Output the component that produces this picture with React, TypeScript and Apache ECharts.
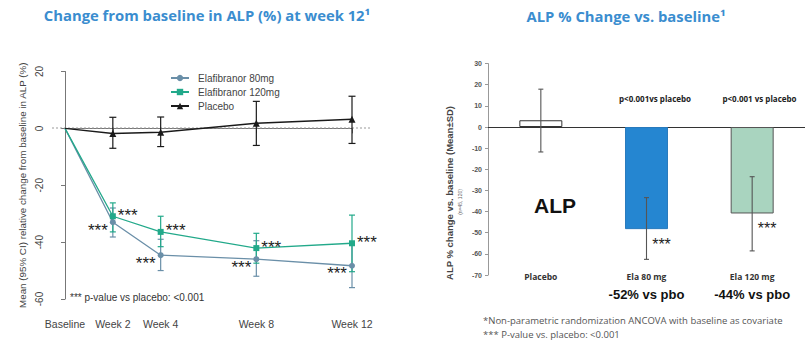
import React, { useEffect, useRef } from 'react';
import * as echarts from 'echarts';

// ---------- Left chart data ----------
const weeks = [0, 2, 4, 8, 12];
const weekLabels = ['Baseline', 'Week 2', 'Week 4', 'Week 8', 'Week 12'];
const ela80Mean = [0, -33, -44.6, -46, -48.3];
const ela80Low = [null, -38.2, -50, -52, -56];
const ela80High = [null, -28, -39, -39.5, -40];
const ela120Mean = [0, -30.9, -36.4, -42.1, -40.4];
const ela120Low = [null, -36.4, -41.6, -47.4, -50.4];
const ela120High = [null, -26.2, -30.9, -36.9, -30.5];
const placeboMean = [0, -1.8, -1.4, 1.8, 3.2];
const placeboLow = [null, -7, -6.4, -6, -5.3];
const placeboHigh = [null, 3.9, 4, 9.5, 11.3];
const sigLeft = ['', '***', '***', '***', '***'];

// ---------- Right chart data ----------
const barCats = ['Placebo', 'Ela 80 mg', 'Ela 120 mg'];
const barMean = [3.2, -48.3, -40.9];
const barSdLow = [-11.8, -62.6, -58.6];
const barSdHigh = [17.9, -33.4, -23.5];
const barSig = ['', '***', '***'];
const pLabels = ['', 'p<0.001vs placebo', 'p<0.001 vs placebo'];
const diffLabels = ['', '-52% vs pbo', '-44% vs pbo'];
const barColors = ['#ffffff', '#2586d1', '#a9d4bf'];
const barBorders = ['#333333', '#2a7bbd', '#555555'];

const C80 = '#6a8fa8';
const C120 = '#22a98a';
const CPL = '#1a1a1a';
const TITLE = '#3a8dcf';

function pts(mean: number[]) {
  return weeks.map((w, i) => (i === 0 ? { value: [w, mean[i]], symbol: 'none' } : [w, mean[i]]));
}
function errData(low: (number | null)[], high: (number | null)[]) {
  const out: number[][] = [];
  weeks.forEach((w, i) => {
    if (low[i] != null && high[i] != null) out.push([w, low[i] as number, high[i] as number]);
  });
  return out;
}
function errRender(cap: number, color: string, width: number) {
  return (params: any, api: any) => {
    const x = api.value(0);
    const lo = api.coord([x, api.value(1)]);
    const hi = api.coord([x, api.value(2)]);
    const st = { stroke: color, lineWidth: width };
    return {
      type: 'group',
      children: [
        { type: 'line', shape: { x1: lo[0], y1: lo[1], x2: hi[0], y2: hi[1] }, style: st },
        { type: 'line', shape: { x1: lo[0] - cap, y1: lo[1], x2: lo[0] + cap, y2: lo[1] }, style: st },
        { type: 'line', shape: { x1: hi[0] - cap, y1: hi[1], x2: hi[0] + cap, y2: hi[1] }, style: st },
      ],
    };
  };
}

export default function App() {
  const ref = useRef<HTMLDivElement>(null);
  useEffect(() => {
    const chart = echarts.init(ref.current!, undefined, { renderer: 'svg' });
    const lf = 'Liberation Sans, Arial, sans-serif';
    const of = 'Open Sans, sans-serif';
    const starLabel = (pos: string, off: number[], arr: string[]) => ({
      show: true,
      position: pos,
      distance: 2,
      offset: off,
      fontSize: 17,
      fontFamily: lf,
      color: '#222',
      formatter: (p: any) => arr[p.dataIndex],
    });
    const option: any = {
      animation: false,
      backgroundColor: '#ffffff',
      grid: [
        { left: 65, top: 71.5, width: 287, height: 227.5 },
        { left: 488, top: 63.6, width: 318, height: 211.4 },
      ],
      xAxis: [
        {
          type: 'value', gridIndex: 0, min: 0, max: 12, offset: 9,
          axisLine: { show: true, lineStyle: { color: '#777', width: 1 } },
          axisTick: { show: true, length: 5, customValues: weeks, lineStyle: { color: '#777' } },
          axisLabel: {
            customValues: weeks, margin: 10, fontSize: 10.5, fontFamily: lf, color: '#444',
            formatter: (v: number) => { const i = weeks.indexOf(v); return i >= 0 ? weekLabels[i] : ''; },
          },
          splitLine: { show: false },
        },
        {
          type: 'category', gridIndex: 1, data: barCats,
          axisLine: { show: true, onZero: true, lineStyle: { color: '#333', width: 1.2 } },
          axisTick: { show: false }, axisLabel: { show: false },
        },
        {
          type: 'category', gridIndex: 1, data: barCats, position: 'bottom',
          axisLine: { show: false, onZero: false }, axisTick: { show: false },
          axisLabel: {
            margin: -4, interval: 0, hideOverlap: false,
            formatter: (v: string) => {
              const i = barCats.indexOf(v);
              return diffLabels[i] ? `{a|${v}}\n{b|${diffLabels[i]}}` : `{a|${v}}`;
            },
            rich: {
              a: { fontSize: 8.5, fontWeight: 'bold', fontFamily: of, color: '#333', lineHeight: 11 },
              b: { fontSize: 13, fontWeight: 'bold', fontFamily: lf, color: '#111', lineHeight: 25 },
            },
          },
        },
      ],
      yAxis: [
        {
          type: 'value', gridIndex: 0, min: -60, max: 20, interval: 20, offset: 13,
          name: 'Mean (95% CI) relative change from baseline in ALP (%)',
          nameLocation: 'middle', nameGap: 25,
          nameTextStyle: { fontSize: 9.8, fontFamily: lf, color: '#444' },
          axisLine: { show: true, lineStyle: { color: '#777', width: 1 } },
          axisTick: { show: true, length: 4, lineStyle: { color: '#777' } },
          axisLabel: { rotate: 90, margin: 8, fontSize: 10, fontFamily: lf, color: '#444' },
          splitLine: { show: false },
        },
        {
          type: 'value', gridIndex: 1, min: -70, max: 30, interval: 10,
          axisLine: { show: true, lineStyle: { color: '#999', width: 1 } },
          axisTick: { show: true, length: 3, lineStyle: { color: '#999' } },
          axisLabel: { margin: 6, fontSize: 7, fontWeight: 'bold', fontFamily: lf, color: '#555' },
          splitLine: { show: false },
        },
      ],
      legend: {
        left: 165, top: 68, orient: 'vertical', itemWidth: 18, itemHeight: 8, itemGap: 4,
        textStyle: { fontSize: 10, fontFamily: lf, color: '#444', padding: [0, 0, 0, 4] },
        data: ['Elafibranor 80mg', 'Elafibranor 120mg', 'Placebo'],
      },
      series: [
        {
          type: 'custom', name: 'err80', xAxisIndex: 0, yAxisIndex: 0,
          renderItem: errRender(3, C80, 1.2), data: errData(ela80Low, ela80High),
          encode: { x: 0, y: [1, 2] }, z: 3,
        },
        {
          type: 'custom', name: 'err120', xAxisIndex: 0, yAxisIndex: 0,
          renderItem: errRender(3, C120, 1.2), data: errData(ela120Low, ela120High),
          encode: { x: 0, y: [1, 2] }, z: 3,
        },
        {
          type: 'custom', name: 'errPl', xAxisIndex: 0, yAxisIndex: 0,
          renderItem: errRender(3.5, CPL, 1.2), data: errData(placeboLow, placeboHigh),
          encode: { x: 0, y: [1, 2] }, z: 3,
        },
        {
          type: 'line', name: 'Elafibranor 80mg', xAxisIndex: 0, yAxisIndex: 0,
          data: pts(ela80Mean), symbol: 'circle', symbolSize: 6,
          lineStyle: { color: C80, width: 1.3 }, itemStyle: { color: C80 },
          label: starLabel('left', [0, 8], sigLeft), z: 4,
        },
        {
          type: 'line', name: 'Elafibranor 120mg', xAxisIndex: 0, yAxisIndex: 0,
          data: pts(ela120Mean), symbol: 'rect', symbolSize: 6,
          lineStyle: { color: C120, width: 1.3 }, itemStyle: { color: C120 },
          label: starLabel('right', [0, -1], sigLeft), z: 4,
        },
        {
          type: 'line', name: 'Placebo', xAxisIndex: 0, yAxisIndex: 0,
          data: pts(placeboMean), symbol: 'triangle', symbolSize: 7,
          lineStyle: { color: CPL, width: 1.5 }, itemStyle: { color: CPL }, z: 5,
        },
        {
          type: 'bar', name: 'bars', xAxisIndex: 1, yAxisIndex: 1, barWidth: 43,
          data: barMean.map((v, i) => ({
            value: v,
            itemStyle: { color: barColors[i], borderColor: barBorders[i], borderWidth: 1 },
          })),
          label: {
            show: true, position: 'bottom', distance: 3, offset: [15, 4],
            fontSize: 16, fontFamily: lf, color: '#222',
            formatter: (p: any) => barSig[p.dataIndex],
          },
        },
        {
          type: 'custom', name: 'errBar', xAxisIndex: 1, yAxisIndex: 1,
          renderItem: errRender(2.5, '#555', 1.1),
          data: barCats.map((c, i) => [i, barSdLow[i], barSdHigh[i]]),
          encode: { x: 0, y: [1, 2] }, z: 5,
        },
      ],
      graphic: [
        { type: 'text', x: 207, y: 15, style: { text: 'Change from baseline in ALP (%) at week 12¹', font: `bold 14.8px ${of}`, fill: TITLE, textAlign: 'center', textVerticalAlign: 'middle' } },
        { type: 'text', x: 626, y: 16, style: { text: 'ALP % Change vs. baseline¹', font: `bold 14.8px ${of}`, fill: TITLE, textAlign: 'center', textVerticalAlign: 'middle' } },
        { type: 'line', shape: { x1: 52, y1: 128, x2: 372, y2: 128 }, style: { stroke: '#999', lineWidth: 1, lineDash: [2, 2] }, z: 1 },
        { type: 'text', x: 70, y: 297, style: { text: '*** p-value vs placebo: <0.001', font: `10px ${lf}`, fill: '#333', textVerticalAlign: 'middle' } },
        { type: 'text', x: 655, y: 98, style: { text: pLabels[1], font: `bold 8px ${of}`, fill: '#222', textAlign: 'center', textVerticalAlign: 'middle' } },
        { type: 'text', x: 759.5, y: 98, style: { text: pLabels[2], font: `bold 8px ${of}`, fill: '#222', textAlign: 'center', textVerticalAlign: 'middle' } },
        { type: 'text', x: 555, y: 205, style: { text: 'ALP', font: `bold 21px ${lf}`, fill: '#111', textAlign: 'center', textVerticalAlign: 'middle' } },
        { type: 'text', x: 449, y: 193, rotation: Math.PI / 2, style: { text: 'ALP % change vs. baseline (Mean±SD)', font: `bold 9.5px ${lf}`, fill: '#444', textAlign: 'center', textVerticalAlign: 'middle' } },
        { type: 'text', x: 460, y: 202, rotation: Math.PI / 2, style: { text: '(n=45, 120)', font: `5px ${lf}`, fill: '#666', textAlign: 'center', textVerticalAlign: 'middle' } },
        { type: 'text', x: 483, y: 320, style: { text: '*Non-parametric randomization ANCOVA with baseline as covariate', font: `9.5px ${of}`, fill: '#555', textVerticalAlign: 'middle' } },
        { type: 'text', x: 483, y: 334, style: { text: '*** P-value vs. placebo: <0.001', font: `9.5px ${of}`, fill: '#555', textVerticalAlign: 'middle' } },
      ],
    };
    chart.setOption(option);
    return () => chart.dispose();
  }, []);
  return (
    <div
      ref={ref}
      style={{ position: 'absolute', left: 0, top: 0, width: 805, height: 341, background: '#fff' }}
    />
  );
}
